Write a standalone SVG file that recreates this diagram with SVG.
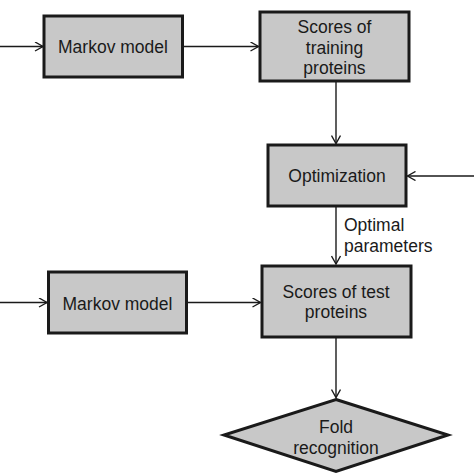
<svg xmlns="http://www.w3.org/2000/svg" width="474" height="474" viewBox="0 0 474 474">
<style>
.box{fill:#c8c8c8;stroke:#1a1a1a;stroke-width:3}
.t{font-family:"Liberation Sans",Arial,sans-serif;font-size:17.5px;fill:#1a1a1a;text-anchor:middle;dominant-baseline:central}
.l{font-family:"Liberation Sans",Arial,sans-serif;font-size:17.5px;fill:#1a1a1a;dominant-baseline:central}
.c{stroke:#1a1a1a;stroke-width:1.4;fill:none}
</style>
<defs>
<marker id="ah" viewBox="0 0 10 10" refX="9" refY="5" markerWidth="10" markerHeight="10" markerUnits="userSpaceOnUse" orient="auto">
<path d="M1,0.5 L9,5 L1,9.5" fill="none" stroke="#1a1a1a" stroke-width="1.4"/>
</marker>
</defs>
<rect width="474" height="474" fill="#ffffff"/>
<g id="connectors">
<line class="c" x1="0" y1="46.5" x2="43" y2="46.5" marker-end="url(#ah)"/>
<line class="c" x1="183" y1="46.5" x2="258.5" y2="46.5" marker-end="url(#ah)"/>
<line class="c" x1="336" y1="82" x2="336" y2="143.5" marker-end="url(#ah)"/>
<line class="c" x1="474" y1="176" x2="407.5" y2="176" marker-end="url(#ah)"/>
<line class="c" x1="336" y1="207" x2="336" y2="264" marker-end="url(#ah)"/>
<line class="c" x1="0" y1="302.5" x2="47" y2="302.5" marker-end="url(#ah)"/>
<line class="c" x1="187" y1="302.5" x2="260.5" y2="302.5" marker-end="url(#ah)"/>
<line class="c" x1="336" y1="338" x2="336" y2="397.5" marker-end="url(#ah)"/>
<text class="l" x="344" y="225">Optimal</text>
<text class="l" x="344" y="245.5">parameters</text>
</g>
<g id="markov1">
<rect class="box" x="44" y="16" width="138.5" height="61"/>
<text class="t" x="113" y="47">Markov model</text>
</g>
<g id="scores-training">
<rect class="box" x="260" y="12" width="149" height="69"/>
<text class="t" x="334.5" y="27">Scores of</text>
<text class="t" x="334.5" y="47.5">training</text>
<text class="t" x="334.5" y="68">proteins</text>
</g>
<g id="optimization">
<rect class="box" x="268" y="145" width="138" height="61"/>
<text class="t" x="337" y="176">Optimization</text>
</g>
<g id="markov2">
<rect class="box" x="48.5" y="272" width="138" height="61"/>
<text class="t" x="117.5" y="304">Markov model</text>
</g>
<g id="scores-test">
<rect class="box" x="262" y="266" width="149" height="71"/>
<text class="t" x="336" y="291.5">Scores of test</text>
<text class="t" x="336" y="312">proteins</text>
</g>
<g id="fold">
<polygon class="box" points="336,399.5 448,435 336,471.5 224,435"/>
<text class="t" x="336" y="426.5">Fold</text>
<text class="t" x="336" y="447.5">recognition</text>
</g>
</svg>
